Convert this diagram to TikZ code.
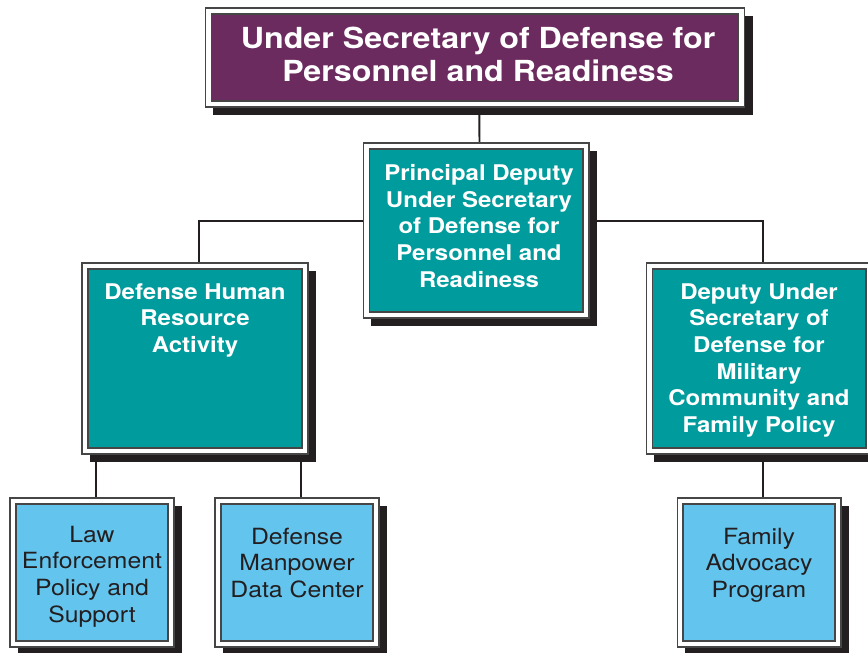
\documentclass[tikz,border=0pt]{standalone}
\usepackage{fontspec}
\setmainfont[FakeStretch=1.11]{TeX Gyre Heros}
\usetikzlibrary{shadows,backgrounds}

\definecolor{usdpurple}{RGB}{108,43,95}
\definecolor{unitteal}{RGB}{0,155,156}
\definecolor{unitblue}{RGB}{99,197,238}
\definecolor{inkblack}{RGB}{35,31,32}
\definecolor{framegray}{RGB}{70,70,70}

\tikzset{
  unit/.style={draw=framegray, fill=white, line width=0.6pt, inner sep=0pt, outer sep=0pt,
    drop shadow={shadow xshift=0.16cm, shadow yshift=-0.16cm, fill=inkblack, opacity=1},
    path picture={\filldraw[draw=framegray, line width=0.6pt, fill=#1]
      ([shift={(0.12cm,-0.12cm)}]path picture bounding box.north west) rectangle
      ([shift={(-0.12cm,0.12cm)}]path picture bounding box.south east);}},
  labeltext/.style={anchor=north, align=center, inner sep=0pt},
  toptext/.style={labeltext, text=white, font=\bfseries\fontsize{16.5}{18.8}\selectfont},
  tealtext/.style={labeltext, text=white, font=\bfseries\fontsize{12.3}{15.2}\selectfont},
  bluetext/.style={labeltext, text=inkblack, font=\fontsize{12.7}{15.2}\selectfont},
  link/.style={draw=inkblack, line width=1.1pt}
}

\begin{document}
\begin{tikzpicture}[x=0.02cm,y=-0.02cm]
  \useasboundingbox (0,0) rectangle (868,652);
  \clip (0,0) rectangle (868,652);

  % boxes
  \node[unit=usdpurple, minimum width=10.8cm, minimum height=1.98cm] (usd) at (475,57.5) {};
  \node[unit=unitteal, minimum width=4.52cm, minimum height=3.5cm] (pdus) at (476,230.5) {};
  \node[unit=unitteal, minimum width=4.52cm, minimum height=3.82cm] (dhra) at (195,358.5) {};
  \node[unit=unitteal, minimum width=4.52cm, minimum height=3.82cm] (dus) at (759,358.5) {};
  \node[unit=unitblue, minimum width=3.28cm, minimum height=2.98cm] (leps) at (92,572.5) {};
  \node[unit=unitblue, minimum width=3.28cm, minimum height=2.98cm] (dmdc) at (297,572.5) {};
  \node[unit=unitblue, minimum width=3.28cm, minimum height=2.98cm] (fap) at (759,572.5) {};

  % texts
  \node[toptext] (usd-t) at ([xshift=0.06cm,yshift=-0.37cm]usd.north) {Under Secretary of Defense for\\Personnel and Readiness};
  \node[tealtext] (pdus-t) at ([xshift=0.06cm,yshift=-0.42cm]pdus.north) {Principal Deputy\\Under Secretary\\of Defense for\\Personnel and\\Readiness};
  \node[tealtext] (dhra-t) at ([yshift=-0.40cm]dhra.north) {Defense Human\\Resource\\Activity};
  \node[tealtext] (dus-t) at ([yshift=-0.40cm]dus.north) {Deputy Under\\Secretary of\\Defense for\\Military\\Community and\\Family Policy};
  \node[bluetext] (leps-t) at ([yshift=-0.55cm]leps.north) {Law\\Enforcement\\Policy and\\Support};
  \node[bluetext] (dmdc-t) at ([yshift=-0.59cm]dmdc.north) {Defense\\Manpower\\Data Center};
  \node[bluetext] (fap-t) at ([yshift=-0.59cm]fap.north) {Family\\Advocacy\\Program};

  % connectors
  \coordinate (bus) at (480,221);
  \begin{scope}[on background layer]
    \begin{scope}[transform canvas={xshift=0.08cm}]
      \draw[link] (usd) -- (pdus);
      \draw[link] (dhra.north) |- (bus) -| (dus.north);
      \draw[link] (leps.north) -- (leps |- dhra.south);
      \draw[link] (dmdc.north) -- (dmdc |- dhra.south);
      \draw[link] (dus) -- (fap);
    \end{scope}
  \end{scope}
\end{tikzpicture}
\end{document}
